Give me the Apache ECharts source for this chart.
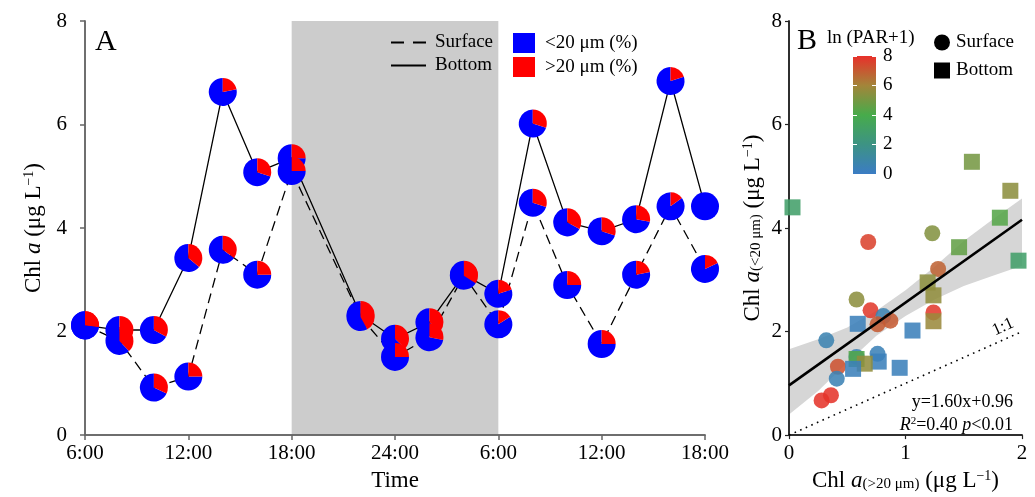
<!DOCTYPE html>
<html><head><meta charset="utf-8">
<script src="https://cdn.jsdelivr.net/npm/echarts@6/dist/echarts.min.js"></script>
<style>html,body{margin:0;padding:0;background:#fff}#c{width:1035px;height:497px}</style>
</head><body><div id="c"></div>
<script>
// ---------- Panel A data ----------
const hours = [0, 2, 4, 6, 8, 10, 12, 16, 18, 20, 22, 24, 26, 28, 30, 32, 34, 36];
const timeTickLabels = ['6:00', '12:00', '18:00', '24:00', '6:00', '12:00', '18:00'];
const surfaceChl = [2.12, 1.82, 0.92, 1.13, 3.58, 3.10, 5.10, 2.28, 1.51, 1.89, 3.08, 2.14, 4.49, 2.90, 1.76, 3.10, 4.42, 3.21];
const bottomChl  = [2.12, 2.03, 2.03, 3.42, 6.63, 5.08, 5.35, 2.32, 1.86, 2.18, 3.10, 2.73, 6.02, 4.11, 3.94, 4.17, 6.84, 4.42];
const surfaceLargeFrac = [0.27, 0.38, 0.32, 0.25, 0.35, 0.25, 0.25, 0.42, 0.25, 0.28, 0.34, 0.16, 0.30, 0.25, 0.25, 0.22, 0.15, 0.18];
const bottomLargeFrac  = [0.27, 0.45, 0.33, 0.36, 0.22, 0.30, 0.25, 0.42, 0.37, 0.35, 0.34, 0.20, 0.30, 0.33, 0.30, 0.28, 0.20, 0.00];
const darkPeriod = [12, 24];

// ---------- Panel B data ----------
const surfLarge = [1.23, 0.68, 1.28, 0.58, 0.70, 0.81, 0.76, 0.87, 1.24, 0.32, 0.58, 0.76, 0.42, 0.41, 0.36, 0.28];
const surfSmall = [3.90, 3.73, 3.21, 2.62, 2.41, 2.30, 2.14, 2.21, 2.37, 1.83, 1.51, 1.57, 1.32, 1.09, 0.77, 0.67];
const surfPar   = [5.3, 7.6, 6.8, 5.5, 7.8, 0.6, 7.0, 7.0, 7.8, 0.6, 0.5, 0.4, 7.2, 0.5, 7.9, 7.9];
const botLarge  = [0.03, 1.57, 1.90, 1.81, 1.97, 1.46, 1.19, 1.24, 0.59, 1.24, 1.06, 0.58, 0.77, 0.65, 0.55, 0.95];
const botSmall  = [4.40, 5.28, 4.72, 4.20, 3.37, 3.63, 2.95, 2.70, 2.15, 2.20, 2.02, 1.47, 1.42, 1.38, 1.28, 1.30];
const botPar    = [3.0, 5.0, 5.5, 4.3, 3.0, 4.6, 5.5, 5.6, 0.3, 5.8, 0.3, 4.2, 0.3, 5.6, 0.3, 0.3];
const fitLine = [[0, 0.96], [2, 4.16]];
const oneToOne = [[0, 0], [2, 2]];
const bandX     = [0, 0.25, 0.5, 0.75, 1.0, 1.25, 1.5, 1.75, 2.0];
const bandUpper = [1.66, 1.85, 2.08, 2.40, 2.80, 3.25, 3.75, 4.17, 4.57];
const bandLower = [0.40, 0.85, 1.40, 1.92, 2.30, 2.62, 2.88, 3.08, 3.27];
const parColors = ['#3b7cc4', '#3d9384', '#47ab4b', '#a3853a', '#e8302a']; // 0,2,4,6,8
const parTicks = [0, 2, 4, 6, 8];

const FONT = '"Liberation Serif", "Times New Roman", serif';
const PIE_R = 14;
const AX_A = '#666';
const AX_B = '#222';

function pieRender(params, api) {
  const c = api.coord([api.value(0), api.value(1)]);
  const f = api.value(2);
  const a0 = -Math.PI / 2, a1 = a0 + f * 2 * Math.PI, a2 = a0 + 2 * Math.PI;
  const ch = [{type: 'sector', shape: {cx: c[0], cy: c[1], r: PIE_R, r0: 0, startAngle: a1, endAngle: a2, clockwise: true}, style: {fill: '#0000ff'}}];
  if (f > 0) ch.push({type: 'sector', shape: {cx: c[0], cy: c[1], r: PIE_R, r0: 0, startAngle: a0, endAngle: a1, clockwise: true}, style: {fill: '#ff0000'}});
  return {type: 'group', children: ch};
}

const chart = echarts.init(document.getElementById('c'), null, {renderer: 'canvas'});

const baseLabel = {fontFamily: FONT, fontSize: 21, color: '#000'};
const nameRich = {
  r: {fontFamily: FONT, fontSize: 23, color: '#000'},
  i: {fontFamily: FONT, fontSize: 23, fontStyle: 'italic', color: '#000'},
  s: {fontFamily: FONT, fontSize: 14, color: '#000', verticalAlign: 'top', lineHeight: 14},
  b: {fontFamily: FONT, fontSize: 15, color: '#000', verticalAlign: 'bottom', lineHeight: 14}
};

const option = {
  animation: false,
  backgroundColor: '#fff',
  grid: [
    {left: 85, top: 21, width: 620, height: 418},
    {left: 789, top: 21, width: 233, height: 418},
    {left: 853, top: 56, width: 23, height: 118}
  ],
  xAxis: [
    {type: 'value', gridIndex: 0, min: 0, max: 36, interval: 6, z: 2,
     axisLine: {lineStyle: {color: AX_A, width: 1.5}}, axisTick: {length: 5, lineStyle: {color: AX_A, width: 1.5}},
     splitLine: {show: false},
     axisLabel: Object.assign({margin: 8, formatter: v => timeTickLabels[Math.round(v / 6)]}, baseLabel),
     name: 'Time', nameLocation: 'middle', nameGap: 32, nameTextStyle: {fontFamily: FONT, fontSize: 23, color: '#000'}},
    {type: 'value', gridIndex: 0, position: 'top', min: 0, max: 36, interval: 6, z: 2,
     axisLine: {lineStyle: {color: AX_A, width: 1.5}}, axisTick: {show: false}, axisLabel: {show: false}, splitLine: {show: false}},
    {type: 'value', gridIndex: 1, min: 0, max: 2, interval: 1, z: 2,
     axisLine: {lineStyle: {color: AX_B, width: 1.5}}, axisTick: {length: 4, lineStyle: {color: AX_B, width: 1.2}},
     splitLine: {show: false}, axisLabel: Object.assign({margin: 8}, baseLabel),
     name: '{r|Chl }{i|a}{b|(>20 μm)}{r| (μg L}{s|−1}{r|)}', nameLocation: 'middle', nameGap: 31,
     nameTextStyle: {rich: nameRich}},
    {type: 'value', gridIndex: 1, position: 'top', min: 0, max: 2, interval: 1, z: 2,
     axisLine: {lineStyle: {color: AX_B, width: 1.5}}, axisTick: {show: false}, axisLabel: {show: false}, splitLine: {show: false}},
    {type: 'category', gridIndex: 2, data: ['c'], show: false}
  ],
  yAxis: [
    {type: 'value', gridIndex: 0, min: 0, max: 8, interval: 2, z: 2,
     axisLine: {show: true, lineStyle: {color: AX_A, width: 1.5}}, axisTick: {show: true, length: 5, lineStyle: {color: AX_A, width: 1.5}},
     splitLine: {show: false}, axisLabel: Object.assign({margin: 18}, baseLabel),
     name: '{r|Chl }{i|a}{r| (μg L}{s|−1}{r|)}', nameLocation: 'middle', nameGap: 40, nameRotate: 90,
     nameTextStyle: {rich: nameRich}},
    {type: 'value', gridIndex: 0, position: 'right', min: 0, max: 8, interval: 2, z: 2,
     axisLine: {show: true, lineStyle: {color: AX_A, width: 1.5}}, axisTick: {show: false}, axisLabel: {show: false}, splitLine: {show: false}},
    {type: 'value', gridIndex: 1, min: 0, max: 8, interval: 2, z: 2,
     axisLine: {show: true, lineStyle: {color: AX_B, width: 1.5}}, axisTick: {show: true, length: 4, lineStyle: {color: AX_B, width: 1.2}},
     splitLine: {show: false}, axisLabel: Object.assign({margin: 7}, baseLabel),
     name: '{r|Chl }{i|a}{b|(<20 μm)}{r| (μg L}{s|−1}{r|)}', nameLocation: 'middle', nameGap: 25, nameRotate: 90,
     nameTextStyle: {rich: nameRich}},
    {type: 'value', gridIndex: 1, position: 'right', min: 0, max: 8, interval: 2, z: 2,
     axisLine: {show: true, lineStyle: {color: AX_B, width: 1.5}}, axisTick: {show: false}, axisLabel: {show: false}, splitLine: {show: false}},
    {type: 'value', gridIndex: 2, position: 'right', min: 0, max: 8, interval: 2, z: 5,
     axisLine: {show: false}, axisTick: {show: true, inside: true, length: 4, lineStyle: {color: '#fff', width: 1}},
     splitLine: {show: false}, axisLabel: {margin: 7, fontFamily: FONT, fontSize: 19, color: '#000',
       formatter: v => (parTicks.indexOf(v) >= 0 ? String(v) : '')}},
    {type: 'value', gridIndex: 2, position: 'left', min: 0, max: 8, interval: 2, z: 5,
     axisLine: {show: false}, axisTick: {show: true, inside: true, length: 4, lineStyle: {color: '#fff', width: 1}},
     splitLine: {show: false}, axisLabel: {show: false}}
  ],
  visualMap: {type: 'continuous', show: false, min: 0, max: 8, dimension: 2, seriesIndex: [9, 10], inRange: {color: parColors}},
  legend: [
    {left: 385, top: 28, orient: 'vertical', itemWidth: 35, itemHeight: 20, itemGap: 4, selectedMode: false,
     itemStyle: {opacity: 0},
     textStyle: {fontFamily: FONT, fontSize: 19, color: '#000', padding: [0, 0, 0, 4]},
     data: [{name: 'Surface', lineStyle: {type: [13, 9]}}, {name: 'Bottom'}]},
    {left: 508, top: 28, orient: 'vertical', itemWidth: 22, itemHeight: 20, itemGap: 4, selectedMode: false,
     textStyle: {fontFamily: FONT, fontSize: 19, color: '#000', padding: [0, 0, 0, 5]},
     data: [{name: '<20 μm (%)', icon: 'rect', itemStyle: {color: '#0000ff', opacity: 1}},
            {name: '>20 μm (%)', icon: 'rect', itemStyle: {color: '#ff0000', opacity: 1}}]},
    {left: 929, top: 28, orient: 'vertical', itemWidth: 16, itemHeight: 16, itemGap: 9, selectedMode: false,
     formatter: n => n.replace(' (B)', ''),
     textStyle: {fontFamily: FONT, fontSize: 19, color: '#000', padding: [0, 0, 0, 1]},
     data: [{name: 'Surface (B)', icon: 'circle', itemStyle: {color: '#000', opacity: 1}},
            {name: 'Bottom (B)', icon: 'rect', itemStyle: {color: '#000', opacity: 1}}]}
  ],
  graphic: [
    {type: 'text', z: 100, style: {text: 'A', x: 95, y: 42, font: '30px ' + FONT, verticalAlign: 'middle', fill: '#000'}},
    {type: 'text', z: 100, style: {text: 'B', x: 797, y: 41, font: '30px ' + FONT, verticalAlign: 'middle', fill: '#000'}},
    {type: 'text', z: 100, style: {text: 'ln (PAR+1)', x: 827, y: 38, font: '19px ' + FONT, verticalAlign: 'middle', fill: '#000'}},
    {type: 'text', z: 100, style: {text: 'y=1.60x+0.96', x: 1013, y: 402, font: '18px ' + FONT, align: 'right', verticalAlign: 'middle', fill: '#000'}},
    {type: 'text', z: 100, style: {text: '{i|R}{s|2}{n|=0.40 }{i|p}{n|<0.01}', x: 1013, y: 425, align: 'right', verticalAlign: 'middle',
      rich: {n: {fontFamily: FONT, fontSize: 18, fill: '#000'}, i: {fontFamily: FONT, fontSize: 18, fontStyle: 'italic', fill: '#000'},
             s: {fontFamily: FONT, fontSize: 11, fill: '#000', verticalAlign: 'top', lineHeight: 12}}}},
    {type: 'text', z: 100, rotation: 24 * Math.PI / 180, x: 1003, y: 327,
     style: {text: '1:1', x: 0, y: 0, font: '17px ' + FONT, align: 'center', verticalAlign: 'middle', fill: '#000'}}
  ],
  series: [
    // 0 dark period shading
    {type: 'custom', xAxisIndex: 0, yAxisIndex: 0, z: 1, silent: true, clip: true, data: [darkPeriod],
     renderItem: (p, api) => {
       const a = api.coord([api.value(0), 8]), b = api.coord([api.value(1), 0]);
       return {type: 'rect', shape: {x: a[0], y: a[1], width: b[0] - a[0], height: b[1] - a[1]}, style: {fill: '#cccccc'}};
     }},
    // 1,2 lines
    {name: 'Surface', type: 'line', xAxisIndex: 0, yAxisIndex: 0, z: 3, symbol: 'none',
     lineStyle: {color: '#000', width: 1.3, type: [10, 6]}, itemStyle: {color: '#000'},
     data: hours.map((h, i) => [h, surfaceChl[i]])},
    {name: 'Bottom', type: 'line', xAxisIndex: 0, yAxisIndex: 0, z: 3, symbol: 'none',
     lineStyle: {color: '#000', width: 1.3, type: 'solid'}, itemStyle: {color: '#000'},
     data: hours.map((h, i) => [h, bottomChl[i]])},
    // 3,4 pies
    {type: 'custom', xAxisIndex: 0, yAxisIndex: 0, z: 4, clip: false, renderItem: pieRender,
     data: hours.map((h, i) => [h, bottomChl[i], bottomLargeFrac[i]])},
    {type: 'custom', xAxisIndex: 0, yAxisIndex: 0, z: 5, clip: false, renderItem: pieRender,
     data: hours.map((h, i) => [h, surfaceChl[i], surfaceLargeFrac[i]])},
    // 5,6 legend entries for pies
    {name: '<20 μm (%)', type: 'scatter', xAxisIndex: 0, yAxisIndex: 0, data: [], itemStyle: {color: '#0000ff', opacity: 1}},
    {name: '>20 μm (%)', type: 'scatter', xAxisIndex: 0, yAxisIndex: 0, data: [], itemStyle: {color: '#ff0000', opacity: 1}},
    // 7 confidence band
    {type: 'custom', xAxisIndex: 2, yAxisIndex: 2, z: 1, silent: true, clip: true, data: [[0]],
     renderItem: (p, api) => {
       const pts = [];
       for (let i = 0; i < bandX.length; i++) pts.push(api.coord([bandX[i], bandUpper[i]]));
       for (let i = bandX.length - 1; i >= 0; i--) pts.push(api.coord([bandX[i], bandLower[i]]));
       return {type: 'polygon', shape: {points: pts}, style: {fill: '#d6d6d6'}};
     }},
    // 8 1:1 line
    {type: 'line', xAxisIndex: 2, yAxisIndex: 2, z: 3, symbol: 'none', silent: true,
     lineStyle: {color: '#000', width: 1.6, type: [1.6, 4.5]}, data: oneToOne},
    // 9,10 scatter
    {name: 'Surface (B)', type: 'scatter', xAxisIndex: 2, yAxisIndex: 2, z: 4, symbol: 'circle', symbolSize: 16,
     itemStyle: {opacity: 0.87}, data: surfLarge.map((x, i) => [x, surfSmall[i], surfPar[i]])},
    {name: 'Bottom (B)', type: 'scatter', xAxisIndex: 2, yAxisIndex: 2, z: 4, symbol: 'rect', symbolSize: 16,
     itemStyle: {opacity: 0.87}, data: botLarge.map((x, i) => [x, botSmall[i], botPar[i]])},
    // 11 regression line
    {type: 'line', xAxisIndex: 2, yAxisIndex: 2, z: 6, symbol: 'none', silent: true,
     lineStyle: {color: '#000', width: 2.6}, data: fitLine},
    // 12 colour bar
    {type: 'bar', xAxisIndex: 4, yAxisIndex: 4, z: 2, barWidth: '100%', silent: true, data: [8],
     itemStyle: {color: new echarts.graphic.LinearGradient(0, 0, 0, 1,
       parColors.slice().reverse().map((c, i) => ({offset: i / (parColors.length - 1), color: c})))}}
  ]
};
chart.setOption(option);
</script>
</body></html>
